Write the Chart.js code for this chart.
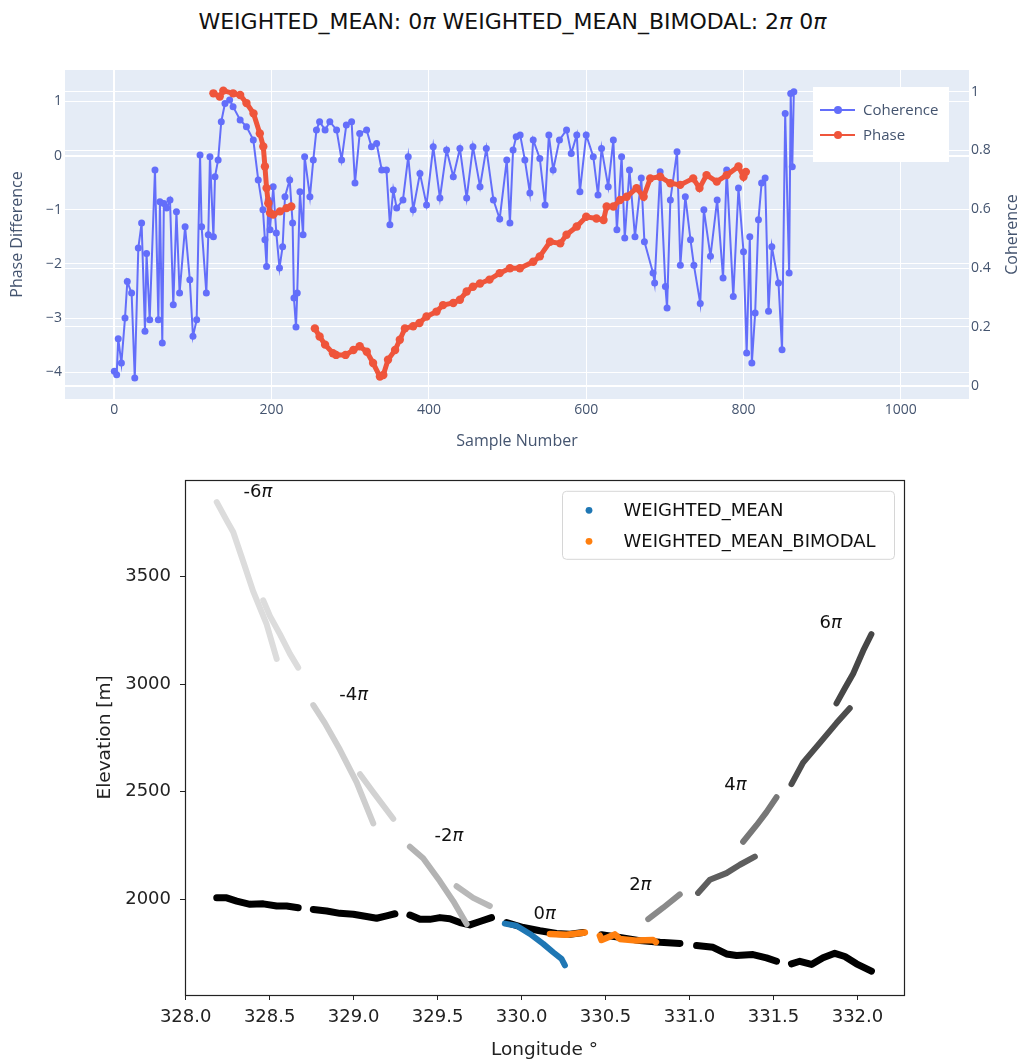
<!DOCTYPE html>
<html>
<head>
<meta charset="utf-8">
<script src="https://cdn.jsdelivr.net/npm/chart.js@4.4.0/dist/chart.umd.min.js"></script>
<style>
body{margin:0;background:#fff;width:1021px;height:1062px;position:relative;overflow:hidden;font-family:"DejaVu Sans";}
#title{position:absolute;left:0;top:8px;width:1025px;text-align:center;font-size:22px;line-height:28px;color:#111;}
#top{position:absolute;left:0;top:40px;}
#bottom{position:absolute;left:0;top:460px;}
</style>
</head>
<body>
<div id="title">WEIGHTED_MEAN: 0<i>π</i> WEIGHTED_MEAN_BIMODAL: 2<i>π</i> 0<i>π</i></div>
<canvas id="top" width="1021" height="420"></canvas>
<canvas id="bottom" width="1021" height="602"></canvas>
<script>
// ---- top plot: coherence + phase along the profile ----
var cohSample = [0,3,5,9,13.6,16.5,22,26,30.5,34.7,39,41,45,51.7,56,58,61,63,66.5,70.8,75,79,83,90,96,100,104.7,109,111,117,119.5,121.6,126,128,132,136,140.7,146.6,151,160,168,176.7,183,189,191.5,193.6,195.8,198,202,206,210,214,217,223,226.7,228.4,231,232.6,236,240,242,248.7,253,257,261,268,274,282.6,289,295,301.7,306,312,320.8,327,333.5,340,346,350.4,354.7,359,367,373.7,380,388.6,397,405.5,414,422.5,431,439.4,448,456,465,473,482,490,499,503,507,511,516,522,528.4,532.6,541,547.7,552.5,558,566,575,581,588,592,600,609,615,619.5,628,634.5,639,645,649,655,662,670,674,685,687,694,700.7,702.8,707,715.5,719.7,726,732.6,736.9,745,749.6,758,766.5,774,778.6,787,793.6,800,804,808,810.6,814.8,819,823,827.5,831.8,836,844.5,849,853,858,860,862,864]
var cohValue = [0.049,0.037,0.16,0.077,0.23,0.354,0.315,0.026,0.468,0.553,0.185,0.45,0.224,0.734,0.224,0.626,0.145,0.62,0.604,0.632,0.275,0.592,0.315,0.541,0.36,0.168,0.224,0.785,0.541,0.315,0.513,0.779,0.507,0.711,0.768,0.898,0.96,0.972,0.949,0.904,0.881,0.836,0.7,0.598,0.496,0.405,0.632,0.53,0.677,0.519,0.4,0.473,0.643,0.7,0.553,0.298,0.2,0.315,0.66,0.513,0.779,0.643,0.768,0.87,0.898,0.87,0.898,0.87,0.768,0.887,0.898,0.689,0.858,0.87,0.813,0.824,0.734,0.734,0.547,0.666,0.604,0.632,0.779,0.598,0.722,0.615,0.813,0.638,0.802,0.711,0.807,0.638,0.813,0.677,0.807,0.632,0.567,0.768,0.553,0.802,0.847,0.853,0.768,0.655,0.836,0.773,0.615,0.853,0.734,0.836,0.87,0.79,0.853,0.66,0.853,0.779,0.649,0.807,0.677,0.836,0.53,0.779,0.502,0.734,0.507,0.706,0.49,0.383,0.349,0.728,0.337,0.264,0.632,0.796,0.41,0.643,0.496,0.41,0.28,0.598,0.44,0.632,0.366,0.734,0.303,0.672,0.456,0.111,0.507,0.077,0.247,0.564,0.689,0.706,0.253,0.473,0.349,0.122,0.926,0.383,0.994,0.745,1.0]

var phaseSample = [126,134,138.6,151,160,168,177,185,189.4,191.5,193.6,195.8,198,202,210.6,219,225,240,255,261,268,278,282,294,304,312,321,329,337.7,342,348,357,363,369.5,380,388,397,409.7,418,431,439.4,448,456,465,477,490,503,515.7,532.6,541,554,567,575,588,600,613,622,626,634.5,643,651.5,664,673,681.4,694,707,719.5,736,744,753,766,778.6,793.6,800,803]
var phaseValue = [1.15,1.09,1.2,1.15,1.12,0.97,0.78,0.41,0.17,-0.2,-0.6,-0.88,-1.06,-1.09,-1.03,-0.97,-0.94,null,-3.19,-3.34,-3.49,-3.65,-3.68,-3.68,-3.59,-3.52,-3.62,-3.83,-4.08,-4.05,-3.77,-3.59,-3.4,-3.19,-3.15,-3.09,-2.97,-2.88,-2.76,-2.72,-2.66,-2.51,-2.42,-2.36,-2.29,-2.17,-2.08,-2.08,-1.96,-1.86,-1.59,-1.62,-1.46,-1.31,-1.13,-1.16,-1.19,-0.94,-0.94,-0.82,-0.76,-0.6,-0.76,-0.42,-0.39,-0.51,-0.54,-0.42,-0.6,-0.36,-0.48,-0.36,-0.2,-0.39,-0.3]

// ---- bottom plot: elevation vs longitude ----
var lonTicks = [328.0,328.5,329.0,329.5,330.0,330.5,331.0,331.5,332.0]
var elevTicks = [2000,2500,3000,3500]

var trueLon = [328.185,328.244,328.304,328.383,328.462,328.542,328.601,328.67,null,328.76,328.84,328.918,328.998,329.077,329.137,329.196,329.246,null,329.335,329.395,329.454,329.514,329.573,329.633,329.692,329.752,329.821,null,329.911,330.01,330.109,330.208,330.288,330.367,null,330.476,330.585,330.704,330.824,330.943,null,331.042,331.14,331.22,331.28,331.378,331.458,331.518,null,331.607,331.657,331.726,331.795,331.865,331.925,331.994,332.083]
var trueElev = [2006,2006,1991,1976,1978,1968,1968,1960,null,1952,1945,1934,1930,1919,1911,1922,1932,null,1926,1906,1906,1914,1909,1891,1880,1896,1914,null,1891,1868,1853,1840,1837,1845,null,1834,1822,1807,1799,1794,null,1784,1776,1745,1738,1742,1727,1711,null,1699,1711,1696,1727,1748,1733,1699,1665]

var wmLon = [329.9,329.97,330.05,330.129,330.188,330.238,330.258]
var wmElev = [1886,1876,1838,1792,1753,1722,1692]
var wmbLon = [330.169,330.268,330.377,null,330.466,330.476,330.555,330.585,330.685,330.783,330.8]
var wmbElev = [1838,1834,1845,null,1830,1810,1836,1815,1807,1810,1800]

// wrapped (+-2k pi) candidate strands, [lon, elev]
var wrapM6a = [[328.185,3847],[328.244,3762],[328.283,3708],[328.343,3570],[328.402,3432],[328.482,3279],[328.542,3118]]
var wrapM6b = [[328.462,3390],[328.502,3317],[328.561,3233],[328.621,3141],[328.67,3077]]
var wrapM4a = [[328.76,2903],[328.829,2819],[328.918,2696],[329.018,2543],[329.117,2352]]
var wrapM4b = [[329.038,2581],[329.117,2497],[329.236,2374]]
var wrapM2a = [[329.335,2244],[329.414,2190],[329.514,2083],[329.593,1991],[329.673,1884]]
var wrapM2b = [[329.613,2060],[329.712,2006],[329.811,1968]]
var wrapP2a = [[330.754,1907],[330.843,1960],[330.942,2022]]
var wrapP2b = [[331.051,2029],[331.121,2090],[331.22,2121],[331.3,2160],[331.389,2198]]
var wrapP4a = [[331.319,2267],[331.399,2344],[331.458,2405],[331.518,2474]]
var wrapP4b = [[331.607,2535],[331.676,2635],[331.776,2727],[331.875,2819],[331.954,2888]]
var wrapP6 = [[331.875,2911],[331.924,2980],[331.974,3049],[332.034,3156],[332.083,3233]]

var wrapText = ['-6','-4','-2','0','2','4','6']
var wrapLon = [328.43,329.0,329.567,330.137,330.707,331.273,331.84]
var wrapElev = [3893,2950,2292,1929,2064,2531,3282]

function pts(xs, ys){
	return xs.map(function(x,i){ return ys[i]===null ? {x:NaN,y:null} : {x:x,y:ys[i]} })
}
function pairs(arr){
	return arr.map(function(p){ return {x:p[0],y:p[1]} })
}

Chart.defaults.font.family = "'Open Sans', sans-serif"

var plotBg = {
	id:'plotBg',
	beforeDraw:function(chart){
		var a = chart.chartArea, ctx = chart.ctx
		ctx.save()
		ctx.fillStyle = '#e5ecf6'
		ctx.fillRect(a.left, a.top, a.right-a.left, a.bottom-a.top)
		ctx.restore()
	}
}

var plotlyText = '#44546f'

var topLegend = {
	id:'topLegend',
	afterDraw:function(chart){
		var ctx = chart.ctx, a = chart.chartArea
		var x0 = a.right-156, y0 = a.top+17
		ctx.save()
		ctx.fillStyle = '#fff'
		ctx.fillRect(x0, y0, 136, 75)
		chart.data.datasets.forEach(function(ds,i){
			var y = y0+23+i*25
			ctx.strokeStyle = ds.borderColor
			ctx.lineWidth = 2
			ctx.beginPath(); ctx.moveTo(x0+7,y); ctx.lineTo(x0+42,y); ctx.stroke()
			ctx.fillStyle = ds.borderColor
			ctx.beginPath(); ctx.arc(x0+25,y,4,0,Math.PI*2); ctx.fill()
			ctx.fillStyle = plotlyText
			ctx.font = "15px 'Open Sans'"
			ctx.textBaseline = 'middle'
			ctx.fillText(ds.label, x0+50, y+1)
		})
		// right axis title, plotly reads it bottom to top
		ctx.translate(1012, (a.top+a.bottom)/2)
		ctx.rotate(-Math.PI/2)
		ctx.textAlign = 'center'
		ctx.fillStyle = plotlyText
		ctx.font = "16px 'Open Sans'"
		ctx.fillText('Coherence', 0, 0)
		ctx.restore()
	}
}

var tickFont = {size:14}
function minus(v){ return v<0 ? '\u2212'+Math.abs(v) : ''+v }
function zeroWidth(c){ return c.tick && c.tick.value===0 ? 2 : 1 }

var topChart = new Chart(document.getElementById('top'), {
	type:'line',
	data:{
		datasets:[
			{label:'Coherence', data:pts(cohSample,cohValue), yAxisID:'y2', borderColor:'#636efa', backgroundColor:'#636efa',
			 borderWidth:2, pointRadius:3.5, pointBorderWidth:0, pointBackgroundColor:'#636efa', tension:0, order:1},
			{label:'Phase', data:pts(phaseSample,phaseValue), yAxisID:'y', borderColor:'#ef553b', backgroundColor:'#ef553b',
			 borderWidth:5, pointRadius:4.2, pointBorderWidth:0, pointBackgroundColor:'#ef553b', tension:0, spanGaps:false, order:0}
		]
	},
	options:{
		responsive:false, animation:false, devicePixelRatio:1,
		layout:{padding:{top:30,left:0,right:0,bottom:0}},
		plugins:{legend:{display:false}, tooltip:{enabled:false}},
		scales:{
			x:{type:'linear', min:-62.7, max:1086.7,
				ticks:{stepSize:200, includeBounds:false, font:tickFont, color:plotlyText, padding:3, maxRotation:0, callback:function(v){ return ''+v }},
				grid:{color:'#fff', lineWidth:zeroWidth, drawTicks:false}, border:{display:false},
				title:{display:true, text:'Sample Number', color:plotlyText, font:{size:16}, padding:{top:0,bottom:9}},
				afterFit:function(s){ s.height = 61 }},
			y:{type:'linear', position:'left', min:-4.494, max:1.581,
				ticks:{stepSize:1, includeBounds:false, font:tickFont, color:plotlyText, padding:3, callback:minus},
				grid:{color:'#fff', lineWidth:zeroWidth, drawTicks:false}, border:{display:false},
				title:{display:true, text:'Phase Difference', color:plotlyText, font:{size:16}, padding:{top:8,bottom:0}},
				afterFit:function(s){ s.width = 65 }},
			y2:{type:'linear', position:'right', min:-0.0452, max:1.0737,
				ticks:{stepSize:0.2, includeBounds:false, font:tickFont, color:plotlyText, padding:2, callback:function(v){ return ''+(+v.toFixed(1)) }},
				grid:{color:'#fff', lineWidth:zeroWidth, drawTicks:false}, border:{display:false},
				title:{display:false},
				afterFit:function(s){ s.width = 52 }}
		}
	},
	plugins:[plotBg, topLegend]
})

// ---- bottom chart ----
var frame = {
	id:'frame',
	afterDraw:function(chart){
		var ctx = chart.ctx, a = chart.chartArea
		ctx.save()
		ctx.strokeStyle = '#222'
		ctx.lineWidth = 1.2
		ctx.strokeRect(Math.round(a.left)+0.5, Math.round(a.top)+0.5, Math.round(a.right-a.left), Math.round(a.bottom-a.top))

		// pi labels
		var xs = chart.scales.x, ys = chart.scales.y
		wrapText.forEach(function(t,i){
			var px = xs.getPixelForValue(wrapLon[i]), py = ys.getPixelForValue(wrapElev[i])
			ctx.font = "18px 'DejaVu Sans'"
			var w1 = ctx.measureText(t).width
			ctx.font = "italic 18px 'DejaVu Sans'"
			var w2 = ctx.measureText('π').width
			var x = px-(w1+w2)/2
			ctx.fillStyle = '#111'
			ctx.textBaseline = 'middle'
			ctx.font = "18px 'DejaVu Sans'"
			ctx.fillText(t, x, py)
			ctx.font = "italic 18px 'DejaVu Sans'"
			ctx.fillText('π', x+w1, py)
		})

		// legend box
		var x0 = a.right-342, y0 = a.top+11
		ctx.fillStyle = 'rgba(255,255,255,0.8)'
		ctx.strokeStyle = '#d6d6d6'
		ctx.lineWidth = 1
		ctx.beginPath()
		ctx.roundRect(x0+0.5, y0+0.5, 332, 68, 4)
		ctx.fill(); ctx.stroke()
		var items = chart.data.datasets.filter(function(d){ return d.label })
		items.forEach(function(d,i){
			var y = y0+19.5+i*31
			ctx.fillStyle = d.backgroundColor
			ctx.beginPath(); ctx.arc(x0+27, y, 3.4, 0, Math.PI*2); ctx.fill()
			ctx.fillStyle = '#111'
			ctx.font = "18px 'DejaVu Sans'"
			ctx.textBaseline = 'middle'
			ctx.fillText(d.label, x0+61.5, y+1)
		})
		ctx.restore()
	}
}

function strand(arr, color){
	return {label:'', data:pairs(arr), showLine:true, borderColor:color, backgroundColor:color, borderWidth:6,
		borderCapStyle:'round', borderJoinStyle:'round', pointRadius:0, order:5}
}

var darkText = '#222'
var mplTicks = {font:{size:18, family:"'DejaVu Sans'"}, color:darkText}

var bottomChart = new Chart(document.getElementById('bottom'), {
	type:'scatter',
	data:{
		datasets:[
			{label:'WEIGHTED_MEAN', data:pts(wmLon,wmElev), showLine:true, borderColor:'#1f77b4', backgroundColor:'#1f77b4',
			 borderWidth:6, borderCapStyle:'round', borderJoinStyle:'round', pointRadius:0, order:2},
			{label:'WEIGHTED_MEAN_BIMODAL', data:pts(wmbLon,wmbElev), showLine:true, borderColor:'#ff7f0e', backgroundColor:'#ff7f0e',
			 borderWidth:6.5, borderCapStyle:'round', borderJoinStyle:'round', pointRadius:0, spanGaps:false, order:1},
			{label:'', data:pts(trueLon,trueElev), showLine:true, borderColor:'#000', backgroundColor:'#000',
			 borderWidth:7, borderCapStyle:'round', borderJoinStyle:'round', pointRadius:0, spanGaps:false, order:10},
			strand(wrapM6a,'#dcdcdc'), strand(wrapM6b,'#dcdcdc'),
			strand(wrapM4a,'#cecece'), strand(wrapM4b,'#d2d2d2'),
			strand(wrapM2a,'#b3b3b3'), strand(wrapM2b,'#b8b8b8'),
			strand(wrapP2a,'#8a8a8a'), strand(wrapP2b,'#5e5e5e'),
			strand(wrapP4a,'#777777'), strand(wrapP4b,'#4d4d4d'),
			strand(wrapP6,'#474747')
		]
	},
	options:{
		responsive:false, animation:false, devicePixelRatio:1,
		layout:{padding:{top:14,left:0,right:117,bottom:0}},
		plugins:{legend:{display:false}, tooltip:{enabled:false}},
		scales:{
			x:{type:'linear', min:327.996, max:332.277,
				afterBuildTicks:function(s){ s.ticks = lonTicks.map(function(v){ return {value:v} }) },
				ticks:Object.assign({padding:7, maxRotation:0, autoSkip:false, callback:function(v){ return v.toFixed(1) }}, mplTicks),
				grid:{drawOnChartArea:false, drawTicks:true, tickLength:5, tickColor:darkText}, border:{display:false},
				title:{display:true, text:'Longitude °', color:darkText, font:{size:18.5, family:"'DejaVu Sans'"}, padding:{top:0,bottom:1}},
				afterFit:function(s){ s.height = 67 }},
			y:{type:'linear', min:1554, max:3951,
				afterBuildTicks:function(s){ s.ticks = elevTicks.map(function(v){ return {value:v} }) },
				ticks:Object.assign({padding:9, autoSkip:false, callback:function(v){ return ''+v }}, mplTicks),
				grid:{drawOnChartArea:false, drawTicks:true, tickLength:5, tickColor:darkText}, border:{display:false},
				title:{display:true, text:'Elevation [m]', color:darkText, font:{size:18.5, family:"'DejaVu Sans'"}, padding:{top:94,bottom:0}},
				afterFit:function(s){ s.width = 185 }}
		}
	},
	plugins:[frame]
})
</script>
</body>
</html>
